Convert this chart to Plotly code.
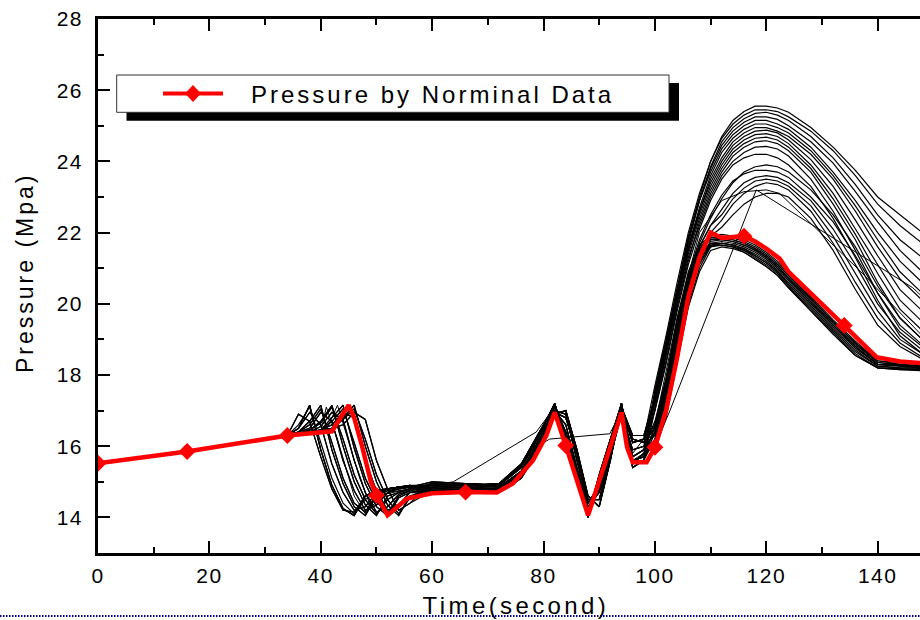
import plotly.graph_objects as go

# ---------------- data ----------------
# nominal pressure curve (red)
red_t = [0, 16, 34, 42, 45, 46, 47.5, 49, 50, 52, 55.5, 60, 66, 71.6, 74.5, 78.1, 80.5,
         82, 84, 88, 94, 95, 96, 98.5, 100, 102, 104, 106, 108, 110, 112, 116, 118, 120,
         122.4, 124, 134, 139.8, 144, 148]
red_p = [15.52, 15.85, 16.3, 16.42, 17.15, 16.8, 15.95, 15.0, 14.62, 14.06, 14.53, 14.68,
         14.71, 14.7, 14.95, 15.6, 16.3, 16.95, 16.02, 14.06, 16.95, 15.97, 15.55, 15.55,
         15.97, 17.0, 18.5, 20.2, 21.3, 22.0, 21.85, 21.9, 21.75, 21.55, 21.27, 20.9,
         19.39, 18.5, 18.38, 18.33]
red_marker_t = [0, 16, 34, 50, 66, 84, 100, 116, 134]

# ensemble runs (black) on a shared time grid
ens_t = [0, 16, 34, 36, 38, 40, 42, 44, 46, 48, 50, 52, 54, 56, 60, 66, 72, 76, 80,
         82, 84, 86, 88, 90, 92, 94, 96, 98, 100, 102, 104, 106, 108, 110, 112, 114,
         116, 118, 120, 122, 124, 128, 132, 136, 140, 144, 148]
ens_lead = [15.52, 15.85, 16.3]  # t = 0, 16, 34
# t = 36 .. 56 (step 2)
ens_drop = [
    [16.5, 17.15, 15.9, 14.9, 14.25, 14.05, 14.6, 14.75, 14.8, 14.85, 14.85],
    [16.6, 17.1, 16.1, 15.1, 14.4, 14.1, 14.5, 14.7, 14.8, 14.85, 14.9],
    [16.4, 16.7, 17.15, 15.9, 14.95, 14.3, 14.05, 14.6, 14.75, 14.8, 14.85],
    [16.4, 16.6, 17.05, 16.1, 15.1, 14.4, 14.15, 14.65, 14.8, 14.85, 14.9],
    [16.35, 16.45, 16.7, 17.15, 16.0, 15.0, 14.35, 14.05, 14.6, 14.7, 14.8],
    [16.35, 16.4, 16.45, 16.8, 17.15, 15.95, 14.95, 14.3, 14.05, 14.55, 14.7],
    [16.35, 16.4, 16.45, 16.7, 17.05, 16.1, 15.1, 14.45, 14.1, 14.6, 14.75],
    [16.35, 16.4, 16.45, 16.5, 16.8, 17.15, 16.0, 15.0, 14.35, 14.05, 14.6],
    [16.35, 16.4, 16.45, 16.5, 16.75, 17.05, 16.2, 15.2, 14.5, 14.1, 14.55],
    [16.35, 16.45, 16.65, 17.1, 16.2, 15.2, 14.5, 14.1, 14.5, 14.7, 14.8],
    [16.9, 16.7, 15.7, 14.8, 14.2, 14.15, 14.6, 14.75, 14.8, 14.85, 14.9],
    [16.5, 16.95, 16.6, 15.5, 14.7, 14.2, 14.3, 14.7, 14.8, 14.85, 14.85],
    [16.4, 16.5, 16.95, 16.7, 15.6, 14.75, 14.2, 14.35, 14.7, 14.8, 14.85],
    [16.35, 16.4, 16.55, 16.95, 16.75, 15.6, 14.7, 14.15, 14.3, 14.65, 14.75],
    [16.35, 16.4, 16.45, 16.6, 16.95, 16.8, 15.6, 14.75, 14.2, 14.35, 14.7],
    [16.35, 16.4, 16.45, 16.5, 16.6, 16.95, 16.75, 15.6, 14.8, 14.2, 14.4],
]
# t = 60, 66, 72, 76, 80
ens_flat = [
    [14.9, 14.95, 14.9, 15.4, 16.5],
    [14.85, 14.9, 14.85, 15.3, 16.4],
    [14.75, 14.8, 14.8, 15.25, 16.3],
    [14.7, 14.75, 14.75, 15.2, 16.2],
    [14.95, 14.9, 14.95, 15.5, 16.6],
    [14.8, 14.85, 14.8, 15.3, 16.25],
    [14.65, 14.7, 14.7, 15.1, 16.1],
    [15.0, 14.95, 14.9, 15.45, 16.55],
]
# t = 82 .. 98 (step 2)
ens_peaks = [
    [17.2, 16.2, 15.1, 14.0, 15.0, 16.0, 17.2, 15.4, 15.6],
    [17.0, 16.9, 15.6, 14.4, 14.9, 15.9, 17.1, 15.7, 15.9],
    [17.1, 16.4, 15.3, 14.2, 14.8, 15.8, 17.0, 16.2, 16.1],
    [16.9, 17.0, 15.9, 14.6, 14.3, 15.6, 17.1, 16.3, 16.3],
    [17.15, 16.3, 15.2, 14.1, 15.1, 16.1, 17.15, 15.5, 15.8],
    [17.0, 16.6, 15.4, 14.3, 14.7, 15.7, 16.9, 15.9, 16.0],
    [16.95, 16.8, 15.8, 14.5, 14.5, 15.7, 17.05, 16.1, 16.2],
    [17.2, 16.1, 15.0, 14.05, 15.2, 16.2, 17.2, 15.6, 15.7],
]
# t = 100 .. 124 (step 2)
ens_hump = [
    [17.6, 19.0, 20.5, 21.9, 23.0, 24.0, 24.7, 25.15, 25.4, 25.55, 25.55, 25.5, 25.38],
    [17.4, 18.8, 20.3, 21.7, 22.9, 23.85, 24.55, 24.95, 25.2, 25.35, 25.38, 25.3, 25.15],
    [17.5, 18.9, 20.4, 21.8, 22.9, 23.7, 24.35, 24.75, 25.0, 25.15, 25.15, 25.05, 24.9],
    [17.2, 18.6, 20.1, 21.5, 22.6, 23.5, 24.1, 24.55, 24.8, 24.95, 24.95, 24.85, 24.7],
    [17.3, 18.7, 20.2, 21.5, 22.5, 23.3, 23.9, 24.35, 24.6, 24.75, 24.78, 24.7, 24.5],
    [17.0, 18.4, 19.9, 21.2, 22.3, 23.1, 23.7, 24.15, 24.4, 24.55, 24.58, 24.5, 24.3],
    [17.1, 18.5, 20.0, 21.3, 22.2, 23.0, 23.6, 24.0, 24.25, 24.4, 24.42, 24.35, 24.15],
    [16.6, 17.8, 19.3, 20.7, 21.7, 22.4, 22.95, 23.4, 23.7, 23.85, 23.9, 23.85, 23.7],
    [16.5, 17.6, 19.1, 20.6, 21.6, 22.2, 22.65, 23.1, 23.4, 23.55, 23.6, 23.55, 23.4],
    [16.4, 17.5, 19.0, 20.5, 21.5, 22.0, 22.35, 22.8, 23.1, 23.3, 23.4, 23.35, 23.2],
    [16.3, 17.3, 18.8, 20.4, 21.4, 21.9, 22.15, 22.5, 22.8, 23.0, 23.1, 23.1, 23.0],
    [16.4, 17.6, 19.2, 20.6, 21.5, 21.85, 21.85, 21.8, 21.7, 21.55, 21.35, 21.1, 20.8],
    [16.1, 17.2, 18.8, 20.3, 21.2, 21.7, 21.75, 21.7, 21.6, 21.45, 21.25, 21.0, 20.7],
    [16.5, 17.8, 19.5, 20.8, 21.6, 21.85, 21.9, 21.85, 21.75, 21.6, 21.4, 21.15, 20.85],
    [15.9, 16.9, 18.4, 20.0, 21.0, 21.6, 21.7, 21.65, 21.55, 21.35, 21.15, 20.9, 20.55],
    [16.2, 17.4, 19.0, 20.5, 21.3, 21.75, 21.8, 21.75, 21.65, 21.5, 21.3, 21.05, 20.75],
    [17.7, 19.1, 20.6, 22.0, 23.1, 24.0, 24.65, 25.05, 25.3, 25.45, 25.45, 25.4, 25.25],
    [17.5, 18.9, 20.4, 21.8, 22.9, 23.8, 24.45, 24.85, 25.1, 25.25, 25.25, 25.18, 25.0],
    [17.3, 18.7, 20.2, 21.6, 22.7, 23.6, 24.25, 24.65, 24.9, 25.05, 25.05, 24.95, 24.8],
    [17.4, 18.8, 20.3, 21.6, 22.6, 23.4, 24.0, 24.45, 24.7, 24.85, 24.88, 24.8, 24.6],
    [17.2, 18.6, 20.1, 21.4, 22.4, 23.2, 23.8, 24.25, 24.5, 24.65, 24.68, 24.6, 24.4],
    [17.0, 18.3, 19.8, 21.1, 22.1, 22.9, 23.5, 23.9, 24.1, 24.2, 24.2, 24.1, 23.9],
    [16.7, 17.9, 19.4, 20.8, 21.8, 22.5, 23.05, 23.45, 23.65, 23.75, 23.75, 23.7, 23.55],
    [16.5, 17.6, 19.1, 20.6, 21.6, 22.2, 22.5, 22.95, 23.25, 23.45, 23.5, 23.45, 23.3],
    [16.6, 17.9, 19.6, 20.9, 21.65, 21.9, 21.95, 21.9, 21.8, 21.65, 21.45, 21.2, 20.9],
    [16.0, 17.0, 18.6, 20.2, 21.1, 21.65, 21.7, 21.65, 21.5, 21.3, 21.1, 20.85, 20.5],
    [16.3, 17.5, 19.1, 20.5, 21.35, 21.7, 21.7, 21.65, 21.55, 21.4, 21.2, 20.95, 20.65],
    [16.2, 17.3, 18.9, 20.4, 21.25, 21.65, 21.65, 21.6, 21.45, 21.25, 21.05, 20.8, 20.45],
    [16.4, 17.7, 19.3, 20.7, 21.55, 21.8, 21.8, 21.75, 21.65, 21.5, 21.3, 21.05, 20.7],
    [15.9, 16.8, 18.3, 19.9, 20.9, 21.5, 21.6, 21.55, 21.45, 21.25, 21.05, 20.8, 20.45],
    [16.5, 17.7, 19.4, 20.7, 21.5, 21.8, 21.85, 21.8, 21.7, 21.55, 21.35, 21.1, 20.8],
    [16.1, 17.1, 18.7, 20.3, 21.15, 21.6, 21.65, 21.6, 21.5, 21.35, 21.15, 20.9, 20.6],
]
# t = 128, 132, 136, 140, 144, 148
ens_tail = [
    [24.95, 24.4, 23.75, 23.0, 22.5, 22.0],
    [24.7, 24.1, 23.35, 22.5, 21.8, 21.3],
    [24.4, 23.7, 22.9, 22.0, 21.2, 20.6],
    [24.2, 23.5, 22.6, 21.6, 20.7, 20.1],
    [23.9, 23.1, 22.1, 21.1, 20.1, 19.5],
    [23.7, 22.8, 21.8, 20.6, 19.6, 19.0],
    [23.5, 22.6, 21.5, 20.3, 19.3, 18.8],
    [23.2, 22.5, 21.6, 20.5, 19.6, 19.0],
    [22.9, 22.1, 21.1, 20.0, 19.2, 18.7],
    [22.6, 21.7, 20.6, 19.6, 18.9, 18.5],
    [22.4, 21.5, 20.4, 19.4, 18.8, 18.45],
    [20.15, 19.5, 18.9, 18.35, 18.3, 18.25],
    [20.05, 19.4, 18.8, 18.3, 18.25, 18.2],
    [20.2, 19.55, 18.95, 18.4, 18.35, 18.3],
    [19.9, 19.25, 18.65, 18.25, 18.2, 18.2],
    [20.1, 19.45, 18.85, 18.35, 18.28, 18.22],
    [24.85, 24.3, 23.6, 22.8, 22.2, 21.7],
    [24.55, 23.95, 23.15, 22.3, 21.5, 20.9],
    [24.3, 23.6, 22.75, 21.8, 20.9, 20.3],
    [24.05, 23.3, 22.35, 21.35, 20.4, 19.8],
    [23.8, 22.95, 21.95, 20.85, 19.85, 19.25],
    [23.3, 22.4, 21.3, 20.1, 19.1, 18.6],
    [23.0, 22.3, 21.35, 20.3, 19.4, 18.85],
    [22.75, 21.9, 20.85, 19.8, 19.0, 18.6],
    [20.3, 19.65, 19.05, 18.5, 18.4, 18.35],
    [19.85, 19.2, 18.6, 18.2, 18.15, 18.15],
    [20.0, 19.35, 18.75, 18.3, 18.25, 18.2],
    [19.8, 19.15, 18.55, 18.2, 18.15, 18.12],
    [20.05, 19.4, 18.8, 18.3, 18.27, 18.25],
    [19.8, 19.15, 18.55, 18.2, 18.18, 18.15],
    [20.15, 19.5, 18.9, 18.4, 18.3, 18.27],
    [19.95, 19.3, 18.7, 18.25, 18.2, 18.18],
]
run_drop = [0, 2, 4, 5, 7, 1, 3, 9, 6, 8, 2, 0, 4, 5, 7, 8,
            10, 11, 12, 13, 14, 15, 0, 3, 6, 9, 10, 11, 12, 13, 14, 15]
run_flat = [0, 1, 4, 2, 5, 3, 0, 1, 4, 2, 5, 3, 0, 1, 2, 4,
            6, 7, 0, 3, 6, 7, 2, 5, 1, 4, 6, 7, 3, 0, 5, 2]
run_peak = [0, 2, 1, 4, 3, 5, 0, 2, 4, 1, 5, 0, 4, 2, 3, 0,
            6, 7, 1, 3, 6, 7, 5, 2, 0, 4, 6, 7, 1, 3, 6, 7]

# runs with fewer samples (straight segments)
sparse_t = [
    [0, 16, 34, 40, 41, 43, 46, 48, 50, 56, 63.8, 78.7, 82, 86, 88, 94, 96, 100,
     102.7, 118.2, 146.3, 148],
    [0, 16, 34, 41, 43, 45, 47, 49, 52, 56, 66, 72, 76, 80, 81.1, 91.9, 94, 96, 100,
     104, 108, 112, 116, 120, 122.4, 136.8, 148],
]
sparse_p = [
    [15.52, 15.85, 16.3, 16.4, 17.1, 16.2, 14.6, 14.1, 14.6, 14.8, 15.0, 16.4, 17.1,
     15.1, 14.1, 17.0, 15.6, 16.0, 17.0, 23.2, 20.45, 20.2],
    [15.52, 15.85, 16.3, 16.45, 17.15, 16.1, 15.1, 14.3, 14.7, 14.8, 14.85, 14.8, 15.3,
     16.1, 16.2, 16.35, 17.0, 15.8, 16.6, 19.6, 22.0, 22.9, 23.15, 23.2, 23.1, 20.93, 19.1],
]

x_ticks = [0, 20, 40, 60, 80, 100, 120, 140]
y_ticks = [14, 16, 18, 20, 22, 24, 26, 28]
x_full_max = 150
x_visible_max = 147.6
y_range = [13, 28]
legend_text = "Pressure by Norminal Data"
x_title = "Time(second)"
y_title = "Pressure (Mpa)"

# ---------------- layout geometry ----------------
W, H = 920, 620
ML, MT, MR, MB = 98, 19, 0, 67
PW, PH = W - ML - MR, H - MT - MB


def pxx(px):
    return (px - ML) / PW


def pxy(py):
    return (H - MB - py) / PH


FONT = "Liberation Sans, Arial, Helvetica, sans-serif"

fig = go.Figure()

for i in range(len(ens_hump)):
    p = (ens_lead + ens_drop[run_drop[i]] + ens_flat[run_flat[i]]
         + ens_peaks[run_peak[i]] + ens_hump[i] + ens_tail[i])
    fig.add_trace(go.Scatter(x=ens_t, y=p, mode="lines",
                             line=dict(color="black", width=1.2),
                             showlegend=False, hoverinfo="skip"))
for st, sp in zip(sparse_t, sparse_p):
    fig.add_trace(go.Scatter(x=st, y=sp, mode="lines",
                             line=dict(color="black", width=1),
                             showlegend=False, hoverinfo="skip"))

fig.add_trace(go.Scatter(x=red_t, y=red_p, mode="lines",
                         line=dict(color="#ff0000", width=4.5),
                         name=legend_text, showlegend=False))
mk_t = [t for t in red_t if t in red_marker_t]
mk_p = [p for t, p in zip(red_t, red_p) if t in red_marker_t]
fig.add_trace(go.Scatter(x=mk_t, y=mk_p, mode="markers",
                         marker=dict(symbol="diamond", size=13, color="#ff0000",
                                     line=dict(width=0)),
                         showlegend=False))

axis_common = dict(showgrid=False, zeroline=False, showline=True, linecolor="black",
                   linewidth=2.5, ticks="inside", ticklen=12, tickwidth=2,
                   tickcolor="black",
                   tickfont=dict(family=FONT, size=21, color="black"))

fig.update_xaxes(range=[0, x_visible_max], tickvals=x_ticks, mirror="ticks",
                 minor=dict(ticks="inside", ticklen=6, tickwidth=2, dtick=10,
                            tick0=0, tickcolor="black", showgrid=False),
                 ticklabelstandoff=2, **axis_common)
fig.update_yaxes(range=y_range, tickvals=y_ticks, mirror=False,
                 minor=dict(ticks="inside", ticklen=6, tickwidth=2, dtick=1,
                            tick0=0, tickcolor="black", showgrid=False),
                 ticklabelstandoff=8, **axis_common)

shapes = [
    # legend shadow and box
    dict(type="rect", xref="paper", yref="paper", x0=pxx(126.5), x1=pxx(679),
         y0=pxy(120.7), y1=pxy(83), fillcolor="black", line=dict(width=0)),
    dict(type="rect", xref="paper", yref="paper", x0=pxx(116.7), x1=pxx(669),
         y0=pxy(112.3), y1=pxy(75), fillcolor="white",
         line=dict(color="#333333", width=1)),
    dict(type="line", xref="paper", yref="paper", x0=pxx(163), x1=pxx(223),
         y0=pxy(93.5), y1=pxy(93.5), line=dict(color="#ff0000", width=4)),
    dict(type="path", xref="paper", yref="paper",
         path="M{},{} L{},{} L{},{} L{},{} Z".format(
             pxx(185), pxy(93.5), pxx(193), pxy(85), pxx(201), pxy(93.5),
             pxx(193), pxy(102)),
         fillcolor="#ff0000", line=dict(width=0)),
    # dotted separator at the bottom
    dict(type="line", xref="paper", yref="paper", x0=pxx(0), x1=pxx(W),
         y0=pxy(616), y1=pxy(616), line=dict(color="#00007f", width=2, dash="1.5px,1.5px")),
]

annotations = [
    dict(text=legend_text, xref="paper", yref="paper", x=pxx(249), y=pxy(94),
         xanchor="left", yanchor="middle", align="left", showarrow=False,
         font=dict(family=FONT, size=24, color="black")),
    dict(text=x_title, xref="x", yref="paper", x=x_full_max / 2, y=pxy(605.5),
         xanchor="center", yanchor="middle", showarrow=False,
         font=dict(family=FONT, size=24, color="black")),
    dict(text=y_title, xref="paper", yref="paper", x=pxx(25), y=pxy(273),
         xanchor="center", yanchor="middle", textangle=-90, showarrow=False,
         font=dict(family=FONT, size=23, color="black")),
]

fig.update_layout(width=W, height=H, margin=dict(l=ML, r=MR, t=MT, b=MB),
                  paper_bgcolor="white", plot_bgcolor="white",
                  shapes=shapes, annotations=annotations, showlegend=False)

post_js = """
document.body.style.margin = '0';
document.body.style.overflow = 'hidden';
var gd = document.getElementById('{plot_id}');
function spacing(){
  function sp(sel, v){ gd.querySelectorAll(sel).forEach(function(e){ e.style.letterSpacing = v; }); }
  sp('.xtick text', '1.5px');
  sp('.ytick text', '1.5px');
  sp('.annotation[data-index="0"] .annotation-text', '3px');
  sp('.annotation[data-index="1"] .annotation-text', '3.4px');
  sp('.annotation[data-index="2"] .annotation-text', '3px');
}
spacing();
gd.on('plotly_afterplot', spacing);
"""

fig.write_html("out.html", post_script=post_js, config={"displayModeBar": False})
